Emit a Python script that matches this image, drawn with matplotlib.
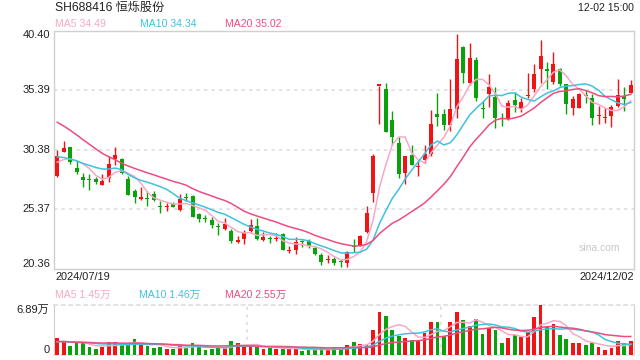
import matplotlib
matplotlib.use('Agg')
import matplotlib.pyplot as plt
import numpy as np
import pandas as pd

plt.rcParams['font.family'] = ['Liberation Sans', 'Noto Sans CJK SC', 'DejaVu Sans']

# ---------------------------------------------------------------------------
# Data: SH688416 daily candles 2024/07/19 - 2024/12/02
# ---------------------------------------------------------------------------
opens = [28.12, 30.15, 30.60, 28.83, 28.07, 27.87, 27.87, 27.42, 27.99, 29.59,
         29.59, 27.93, 26.92, 26.21, 26.27, 26.64, 25.65, 25.51, 25.79, 25.31,
         26.32, 26.49, 24.95, 24.60, 24.47, 23.93, 23.71, 23.54, 22.61, 22.84,
         23.56, 23.96, 22.78, 22.89, 22.81, 23.28, 21.82, 21.93, 22.66, 22.72,
         22.07, 21.51, 21.07, 21.17, 20.98, 20.86, 22.24, 22.35, 23.48, 26.72,
         35.77, 35.45, 32.86, 30.89, 28.41, 29.96, 28.88, 29.47, 30.04, 33.34,
         33.34, 32.41, 33.82, 39.05, 36.01, 37.90, 33.87, 35.02, 34.83, 32.99,
         32.93, 34.51, 33.82, 34.88, 35.45, 37.14, 37.19, 36.06, 37.19, 35.87,
         33.87, 33.90, 34.97, 34.75, 33.22, 33.05, 33.20, 34.05, 34.85, 35.12]
highs = [30.38, 31.14, 30.60, 29.53, 28.41, 28.35, 28.07, 28.35, 29.81, 30.60,
         29.67, 28.12, 27.06, 27.20, 26.86, 26.86, 26.01, 25.88, 25.93, 26.66,
         26.72, 26.58, 25.08, 24.88, 24.68, 24.19, 24.60, 23.68, 23.11, 23.62,
         24.53, 24.61, 23.48, 23.11, 23.34, 23.34, 22.27, 23.05, 22.78, 22.84,
         22.27, 21.65, 21.51, 21.32, 21.17, 21.88, 22.84, 23.20, 25.65, 30.04,
         35.77, 35.95, 33.61, 31.42, 29.81, 30.80, 29.47, 30.80, 33.70, 35.11,
         33.76, 36.29, 40.09, 39.10, 39.39, 38.21, 34.46, 36.71, 35.67, 33.47,
         34.54, 35.22, 34.75, 36.80, 37.56, 39.61, 37.79, 38.60, 37.28, 35.87,
         34.88, 35.11, 35.39, 35.02, 34.04, 33.90, 34.10, 36.35, 35.65, 36.20]
lows = [28.07, 30.15, 29.17, 28.35, 27.23, 27.00, 27.45, 27.36, 27.68, 29.09,
        28.35, 26.52, 25.88, 26.15, 25.59, 26.01, 25.08, 25.17, 25.54, 25.25,
        26.01, 24.68, 24.32, 24.27, 23.76, 23.19, 23.62, 22.55, 22.49, 22.44,
        23.39, 22.78, 22.72, 22.55, 22.72, 21.93, 21.65, 21.60, 22.21, 22.13,
        21.51, 20.67, 20.81, 20.67, 20.47, 20.52, 21.79, 22.30, 23.39, 25.96,
        32.55, 31.84, 30.80, 27.99, 27.51, 29.11, 28.12, 29.26, 29.87, 32.35,
        32.01, 31.96, 33.06, 36.01, 35.78, 34.46, 33.06, 33.99, 32.21, 32.35,
        32.86, 33.53, 33.53, 34.75, 35.22, 36.01, 35.45, 35.87, 35.73, 33.34,
        33.25, 33.84, 34.26, 32.41, 32.50, 32.65, 32.30, 33.97, 33.60, 35.12]
closes = [29.81, 30.52, 29.31, 28.46, 27.79, 27.81, 27.62, 27.76, 29.20, 29.96,
          28.41, 26.58, 26.38, 26.35, 26.18, 26.10, 25.56, 25.56, 25.56, 26.24,
          26.27, 24.74, 24.55, 24.52, 23.99, 23.85, 24.10, 22.69, 22.75, 23.39,
          24.04, 22.86, 23.00, 22.84, 22.89, 21.93, 21.88, 22.63, 22.61, 22.30,
          21.60, 20.95, 21.16, 20.81, 20.93, 21.79, 22.16, 23.11, 25.08, 29.81,
          35.77, 31.84, 31.42, 28.35, 29.81, 29.11, 28.97, 30.04, 32.57, 33.11,
          32.41, 33.76, 37.98, 36.80, 38.12, 34.75, 33.79, 35.67, 33.06, 32.91,
          34.32, 34.09, 34.37, 34.94, 36.71, 38.26, 36.99, 37.56, 35.87, 34.18,
          34.66, 35.02, 34.88, 33.06, 33.28, 33.15, 33.95, 34.95, 34.60, 35.80]
# estimated closes of the 19 sessions before the window (for the moving averages)
prior_closes = [36.8, 36.5, 36.2, 35.9, 35.7, 35.4, 35.2, 35.0, 34.8, 34.5,
                31.0, 30.5, 30.1, 29.9, 29.5, 29.4, 29.0, 29.3, 29.06]

# volume in 万 lots
volumes = [2.36, 1.91, 1.23, 1.59, 1.59, 1.05, 0.82, 1.14, 1.73, 1.82,
           1.36, 1.50, 2.18, 1.50, 1.23, 1.00, 1.14, 0.82, 0.82, 1.23,
           1.00, 1.68, 1.14, 0.68, 0.86, 1.00, 1.00, 1.96, 1.68, 1.14,
           1.23, 1.14, 0.82, 1.00, 0.86, 0.86, 0.86, 0.86, 0.55, 0.68,
           0.77, 0.91, 0.68, 0.91, 0.82, 1.36, 1.82, 1.50, 1.36, 3.41,
           5.91, 5.32, 3.41, 2.59, 2.27, 2.05, 1.96, 3.05, 4.55, 4.55,
           2.59, 4.55, 5.91, 4.77, 3.96, 4.86, 2.86, 3.64, 3.41, 1.68,
           2.36, 2.68, 2.50, 3.18, 5.23, 6.89, 3.86, 4.23, 2.73, 2.18,
           1.68, 1.68, 1.36, 1.68, 1.14, 0.68, 1.00, 1.91, 1.68, 1.91]
prior_volumes = [2.1, 1.9, 2.3, 1.7, 1.6, 2.0, 1.8, 1.5, 1.9, 1.7,
                 1.6, 1.8, 2.2, 1.9, 1.5, 1.6, 1.7, 1.8, 1.6]

price_ticks = [20.36, 25.37, 30.38, 35.39, 40.40]
vol_max = 6.89
ma_periods = [5, 10, 20]
price_ma_text = ['MA5 34.49', 'MA10 34.34', 'MA20 35.02']
vol_ma_text = ['MA5 1.45万', 'MA10 1.46万', 'MA20 2.55万']
start_label = '2024/07/19'
end_label = '2024/12/02'

# ---------------------------------------------------------------------------
red = '#f01414'
green = '#0aa10a'
ma_colors = ['#f7a8c6', '#3ec3df', '#ec4d80']
border = '#d0d0d0'
grid_c = '#dedede'

n = len(closes)
x = np.arange(n)
o = np.array(opens); h = np.array(highs); l = np.array(lows); c = np.array(closes)
up = c >= o
colors = np.where(up, red, green)

close_all = pd.Series(prior_closes + closes)
vol_all = pd.Series(prior_volumes + volumes)
price_ma = [close_all.rolling(p, min_periods=1).mean().values[-n:] for p in ma_periods]
vol_ma = [vol_all.rolling(p, min_periods=1).mean().values[-n:] for p in ma_periods]

W, H = 640, 360
fig = plt.figure(figsize=(6.4, 3.6), dpi=100)
fig.patch.set_facecolor('white')

def fx(px):
    return px / W

def fy(py):
    return 1 - py / H

# ---------------- price panel ----------------
ax = fig.add_axes([fx(54), fy(268.6), fx(580), (268.6 - 30.5) / H])
ax.vlines(x, l, h, colors=colors, linewidth=1, zorder=3)
body_h = np.maximum(np.abs(c - o), 0.09)
ax.bar(x, body_h, bottom=np.minimum(o, c), width=0.62, color=colors,
       linewidth=0, zorder=4)
for ma, col in zip(price_ma, ma_colors):
    ax.plot(x, ma, color=col, linewidth=1.1, zorder=5)

ax.set_xlim(-0.5, n - 0.5)
ax.set_ylim(price_ticks[0], price_ticks[-1])
for t in price_ticks[1:-1]:
    ax.axhline(t, color=grid_c, linewidth=1.2, linestyle=(0, (2, 2.5)), zorder=1)
for sp in ax.spines.values():
    sp.set_color(border)
    sp.set_linewidth(1)
ax.set_xticks([])
ax.set_yticks([])
for i, t in enumerate(price_ticks):
    va = 'bottom' if i == 0 else ('top' if i == len(price_ticks) - 1 else 'center')
    ax.text(-0.006, t, f'{t:.2f}', transform=ax.get_yaxis_transform(),
            ha='right', va=va, fontsize=8, color='#222222')
ax.text(0.94, 0.085, 'sina.com', transform=ax.transAxes, ha='center',
        va='center', fontsize=7.5, color='#c8c8c8')

# ---------------- volume panel ----------------
axv = fig.add_axes([fx(54), fy(355), fx(580), (355 - 304.5) / H])
axv.bar(x, volumes, width=0.58, color=colors, linewidth=0, zorder=3)
for ma, col in zip(vol_ma, ma_colors):
    axv.plot(x, ma, color=col, linewidth=1.1, zorder=4)
axv.set_xlim(-0.5, n - 0.5)
axv.set_ylim(0, vol_max)
for xv in [(n / 3) - 0.5, (2 * n / 3) - 0.5]:
    axv.axvline(xv, color=grid_c, linewidth=1.2, linestyle=(0, (2, 2.5)), zorder=1)
for side in ['left', 'right']:
    axv.spines[side].set_color(border)
for side in ['top', 'bottom']:
    axv.spines[side].set_color(grid_c)
    axv.spines[side].set_linestyle((0, (2, 2.5)))
    axv.spines[side].set_linewidth(1.2)
axv.set_xticks([])
axv.set_yticks([])
axv.text(-0.008, vol_max, f'{vol_max:.2f}万', transform=axv.get_yaxis_transform(),
         ha='right', va='top', fontsize=8, color='#222222')
axv.text(-0.008, 0, '0', transform=axv.get_yaxis_transform(),
         ha='right', va='bottom', fontsize=8, color='#222222')

# ---------------- header / labels ----------------
fig.text(fx(55), fy(8), 'SH688416 恒烁股份', ha='left', va='center',
         fontsize=8.7, color='#222222')
fig.text(fx(634), fy(8), '12-02 15:00', ha='right', va='center',
         fontsize=7.6, color='#222222')
for txt, col, px in zip(price_ma_text, ma_colors, [55, 140, 225]):
    fig.text(fx(px), fy(24), txt, ha='left', va='center', fontsize=7.6, color=col)
fig.text(fx(55), fy(277.5), start_label, ha='left', va='center',
         fontsize=7.9, color='#222222')
fig.text(fx(634), fy(277.5), end_label, ha='right', va='center',
         fontsize=7.9, color='#222222')
for txt, col, px in zip(vol_ma_text, ma_colors, [55, 139, 225]):
    fig.text(fx(px), fy(295), txt, ha='left', va='center', fontsize=7.6, color=col)

fig.savefig('out.png', dpi=100, facecolor='white')
